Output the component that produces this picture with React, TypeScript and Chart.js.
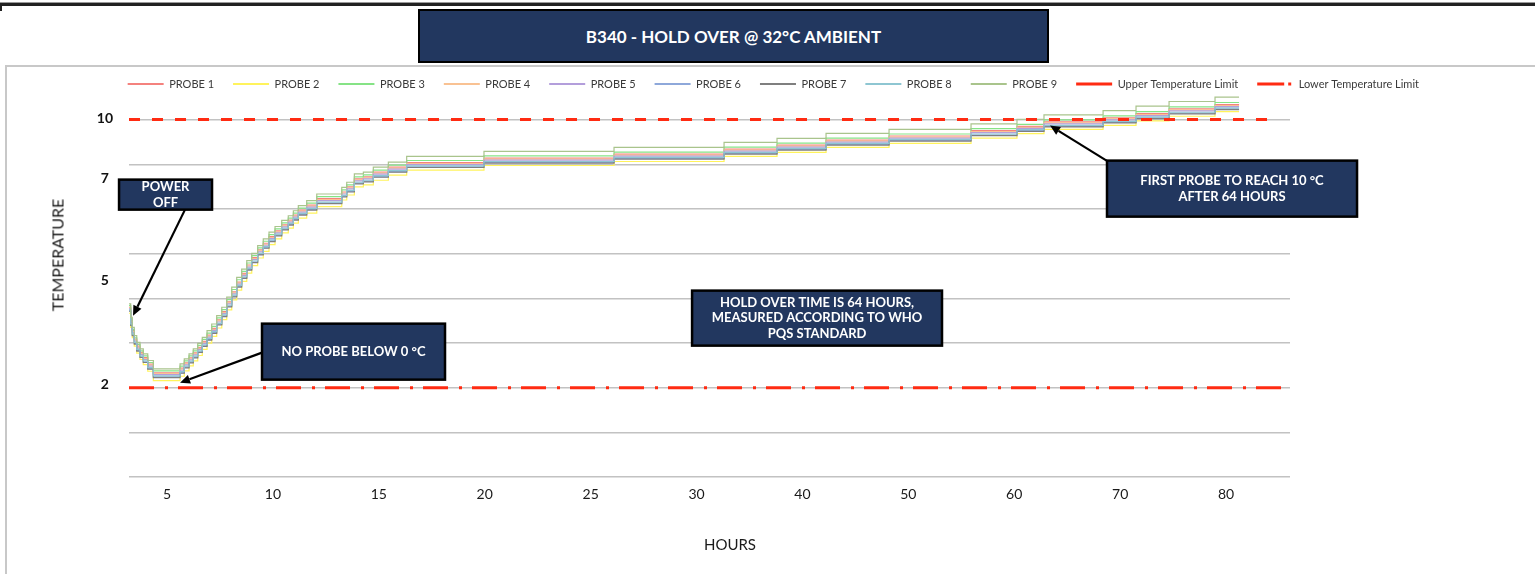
import React, { useEffect, useRef } from 'react';
import { Chart, registerables } from 'chart.js';

Chart.register(...registerables);
Chart.defaults.font.family = 'Lato, "Open Sans", sans-serif';

// ---- axis definitions ----
const X_MIN = -0.359;
const X_MAX = 10.604;
const Y_MIN = -0.6667;
const Y_MAX = 10.6;

const X_TICK_POS = [0, 1, 2, 3, 4, 5, 6, 7, 8, 9, 10];
const X_TICK_LABELS = ['5', '10', '15', '20', '25', '30', '40', '50', '60', '70', '80'];
const Y_TICK_POS = [10.04, 8.25, 5.2, 2.1];
const Y_TICK_LABELS = ['10', '7', '5', '2'];
const Y_GRID = [-0.6667, 0.6667, 2, 3.3333, 4.6667, 6, 7.3333, 8.6667, 10];

// ---- data (x in label-slot units along the hours axis) ----
const SAMPLE_X = [
  -0.359, -0.343, -0.328, -0.309, -0.286, -0.255, -0.224, -0.182, -0.129, 0.123,
  0.163, 0.208, 0.248, 0.29, 0.333, 0.378, 0.422, 0.469, 0.517, 0.564,
  0.611, 0.658, 0.705, 0.753, 0.8, 0.856, 0.909, 0.963, 1.02, 1.083,
  1.145, 1.193, 1.24, 1.319, 1.414, 1.65, 1.697, 1.769, 1.854, 1.948,
  2.09, 2.263, 2.993, 4.221, 5.26, 5.76, 6.223, 6.818, 7.592, 8.026,
  8.281, 8.839, 9.15, 9.462, 9.896, 10.123,
];

const PROBE_1 = [4.40, 4.00, 3.70, 3.45, 3.24, 3.05, 2.90, 2.70, 2.44, 2.58, 2.74, 2.89, 3.04, 3.20, 3.38, 3.57, 3.77, 4.02, 4.27, 4.56, 4.86, 5.15, 5.41, 5.66, 5.88, 6.11, 6.31, 6.51, 6.68, 6.86, 7.00, 7.15, 7.30, 7.45, 7.64, 7.84, 7.99, 8.23, 8.29, 8.43, 8.58, 8.72, 8.85, 8.97, 9.12, 9.24, 9.39, 9.51, 9.67, 9.80, 9.93, 10.05, 10.18, 10.32, 10.45, 10.45];
const PROBE_2 = [4.22, 3.80, 3.49, 3.24, 3.03, 2.84, 2.69, 2.49, 2.21, 2.34, 2.50, 2.65, 2.80, 2.96, 3.14, 3.33, 3.53, 3.78, 4.03, 4.32, 4.62, 4.91, 5.17, 5.42, 5.64, 5.87, 6.07, 6.27, 6.44, 6.62, 6.76, 6.91, 7.06, 7.21, 7.40, 7.60, 7.75, 7.99, 8.05, 8.19, 8.34, 8.49, 8.63, 8.75, 8.90, 9.02, 9.17, 9.29, 9.45, 9.58, 9.71, 9.83, 9.96, 10.10, 10.24, 10.24];
const PROBE_3 = [4.45, 4.05, 3.74, 3.49, 3.29, 3.10, 2.95, 2.75, 2.50, 2.64, 2.80, 2.95, 3.10, 3.26, 3.44, 3.63, 3.83, 4.08, 4.33, 4.63, 4.93, 5.22, 5.47, 5.72, 5.94, 6.17, 6.37, 6.57, 6.74, 6.92, 7.06, 7.21, 7.36, 7.51, 7.70, 7.90, 8.05, 8.29, 8.35, 8.49, 8.64, 8.78, 8.92, 9.03, 9.18, 9.30, 9.45, 9.57, 9.73, 9.86, 9.99, 10.11, 10.24, 10.38, 10.51, 10.51];
const PROBE_4 = [4.38, 3.97, 3.67, 3.42, 3.21, 3.02, 2.87, 2.67, 2.42, 2.55, 2.71, 2.86, 3.01, 3.17, 3.35, 3.54, 3.74, 3.99, 4.24, 4.53, 4.83, 5.12, 5.38, 5.63, 5.85, 6.08, 6.28, 6.48, 6.65, 6.83, 6.97, 7.12, 7.27, 7.42, 7.61, 7.81, 7.96, 8.20, 8.26, 8.40, 8.55, 8.69, 8.82, 8.94, 9.09, 9.21, 9.36, 9.48, 9.64, 9.77, 9.90, 10.02, 10.15, 10.29, 10.42, 10.42];
const PROBE_5 = [4.35, 3.94, 3.64, 3.39, 3.18, 2.99, 2.84, 2.64, 2.39, 2.52, 2.68, 2.83, 2.98, 3.14, 3.32, 3.51, 3.71, 3.96, 4.21, 4.50, 4.80, 5.09, 5.35, 5.60, 5.82, 6.05, 6.25, 6.45, 6.62, 6.80, 6.94, 7.09, 7.24, 7.39, 7.58, 7.78, 7.93, 8.17, 8.23, 8.37, 8.52, 8.66, 8.79, 8.91, 9.06, 9.18, 9.33, 9.45, 9.61, 9.74, 9.87, 9.99, 10.12, 10.26, 10.39, 10.39];
const PROBE_6 = [4.30, 3.88, 3.57, 3.32, 3.11, 2.92, 2.77, 2.57, 2.32, 2.45, 2.61, 2.76, 2.91, 3.07, 3.25, 3.44, 3.64, 3.89, 4.14, 4.43, 4.73, 5.02, 5.28, 5.53, 5.75, 5.98, 6.18, 6.38, 6.55, 6.73, 6.87, 7.02, 7.17, 7.32, 7.51, 7.71, 7.86, 8.10, 8.16, 8.30, 8.45, 8.59, 8.72, 8.84, 8.99, 9.11, 9.26, 9.38, 9.54, 9.67, 9.80, 9.92, 10.05, 10.19, 10.32, 10.32];
const PROBE_7 = [4.28, 3.86, 3.55, 3.30, 3.09, 2.90, 2.75, 2.55, 2.30, 2.43, 2.59, 2.74, 2.89, 3.05, 3.23, 3.42, 3.62, 3.87, 4.12, 4.41, 4.71, 5.00, 5.26, 5.51, 5.73, 5.96, 6.16, 6.36, 6.53, 6.71, 6.85, 7.00, 7.15, 7.30, 7.49, 7.69, 7.84, 8.08, 8.14, 8.28, 8.43, 8.57, 8.70, 8.82, 8.97, 9.09, 9.24, 9.36, 9.52, 9.65, 9.78, 9.90, 10.03, 10.17, 10.30, 10.30];
const PROBE_8 = [4.32, 3.90, 3.60, 3.35, 3.14, 2.95, 2.80, 2.60, 2.35, 2.48, 2.64, 2.79, 2.94, 3.10, 3.28, 3.47, 3.67, 3.92, 4.17, 4.46, 4.76, 5.05, 5.31, 5.56, 5.78, 6.01, 6.21, 6.41, 6.58, 6.76, 6.90, 7.05, 7.20, 7.35, 7.54, 7.74, 7.89, 8.13, 8.19, 8.33, 8.48, 8.62, 8.75, 8.87, 9.02, 9.14, 9.29, 9.41, 9.57, 9.70, 9.83, 9.95, 10.08, 10.22, 10.35, 10.35];
const PROBE_9 = [4.50, 4.10, 3.80, 3.55, 3.35, 3.16, 3.01, 2.81, 2.56, 2.71, 2.86, 3.01, 3.16, 3.32, 3.50, 3.70, 3.90, 4.15, 4.40, 4.70, 5.00, 5.29, 5.54, 5.79, 6.01, 6.24, 6.44, 6.64, 6.81, 6.99, 7.13, 7.28, 7.43, 7.58, 7.78, 7.98, 8.13, 8.38, 8.43, 8.58, 8.73, 8.90, 9.05, 9.17, 9.32, 9.44, 9.59, 9.71, 9.87, 10.01, 10.14, 10.27, 10.40, 10.54, 10.67, 10.67];

const PROBE_NAMES = ['PROBE 1', 'PROBE 2', 'PROBE 3', 'PROBE 4', 'PROBE 5', 'PROBE 6', 'PROBE 7', 'PROBE 8', 'PROBE 9'];
const PROBE_COLORS = ['#F4827E', '#FFF35C', '#86E386', '#F9C293', '#B39EDB', '#8EA8DA', '#7F7F7F', '#8EC6D2', '#A9C48C'];

const UPPER_LIMIT = 10;
const LOWER_LIMIT = 2;
const UPPER_SPAN = [X_MIN, 10.47];
const LOWER_SPAN = [X_MIN, X_MAX];
const LIMIT_COLOR = '#FF2B12';

// ---- callouts (positions in axis units) ----
const ANNOTATIONS = [
  { lines: ['POWER', 'OFF'], box: [-0.453, 0.425, 8.209, 7.313], from: [0.17, 7.313], to: [-0.321, 4.149] },
  { lines: ['NO PROBE BELOW 0 °C'], box: [0.897, 2.625, 3.91, 2.239], from: [0.897, 3.045], to: [0.123, 2.149] },
  { lines: ['HOLD OVER TIME IS 64 HOURS,', 'MEASURED ACCORDING TO WHO', 'PQS STANDARD'], box: [4.958, 7.318, 4.896, 3.254] },
  { lines: ['FIRST PROBE TO REACH 10 °C', 'AFTER 64 HOURS'], box: [8.876, 11.237, 8.776, 7.104], from: [8.933, 8.657], to: [8.338, 9.821] },
];
const BOX_FILL = '#22375F';

const calloutPlugin = {
  id: 'callouts',
  afterDraw(chart: any) {
    const { ctx } = chart;
    const xs = chart.scales.x;
    const ys = chart.scales.y;
    ctx.save();
    for (const a of ANNOTATIONS) {
      if (a.from && a.to) {
        const fx = xs.getPixelForValue(a.from[0]);
        const fy = ys.getPixelForValue(a.from[1]);
        const tx = xs.getPixelForValue(a.to[0]);
        const ty = ys.getPixelForValue(a.to[1]);
        const ang = Math.atan2(ty - fy, tx - fx);
        const head = 10;
        const hw = 4.5;
        const bx = tx - head * Math.cos(ang);
        const by = ty - head * Math.sin(ang);
        ctx.strokeStyle = '#000';
        ctx.lineWidth = 2.2;
        ctx.setLineDash([]);
        ctx.beginPath();
        ctx.moveTo(fx, fy);
        ctx.lineTo(bx, by);
        ctx.stroke();
        ctx.fillStyle = '#000';
        ctx.beginPath();
        ctx.moveTo(tx, ty);
        ctx.lineTo(bx + hw * Math.sin(ang), by - hw * Math.cos(ang));
        ctx.lineTo(bx - hw * Math.sin(ang), by + hw * Math.cos(ang));
        ctx.closePath();
        ctx.fill();
      }
      const x0 = xs.getPixelForValue(a.box[0]);
      const x1 = xs.getPixelForValue(a.box[1]);
      const y0 = ys.getPixelForValue(a.box[2]);
      const y1 = ys.getPixelForValue(a.box[3]);
      ctx.fillStyle = BOX_FILL;
      ctx.fillRect(x0, y0, x1 - x0, y1 - y0);
      ctx.lineWidth = 2.5;
      ctx.strokeStyle = '#000';
      ctx.strokeRect(x0, y0, x1 - x0, y1 - y0);
      ctx.fillStyle = '#fff';
      ctx.font = 'bold 13px Lato, sans-serif';
      ctx.textAlign = 'center';
      ctx.textBaseline = 'middle';
      const lh = 15.5;
      const cx = (x0 + x1) / 2;
      const cy = (y0 + y1) / 2;
      a.lines.forEach((t, i) => {
        ctx.fillText(t, cx, cy + (i - (a.lines.length - 1) / 2) * lh);
      });
    }
    ctx.restore();
  },
};

export default function App() {
  const ref = useRef<HTMLCanvasElement>(null);

  useEffect(() => {
    if (!ref.current) return;
    const probes = [PROBE_1, PROBE_2, PROBE_3, PROBE_4, PROBE_5, PROBE_6, PROBE_7, PROBE_8, PROBE_9];
    const datasets: any[] = probes.map((vals, i) => ({
      label: PROBE_NAMES[i],
      data: SAMPLE_X.map((x, j) => ({ x, y: vals[j] })),
      borderColor: PROBE_COLORS[i],
      backgroundColor: PROBE_COLORS[i],
      borderWidth: 1.2,
      pointRadius: 0,
      stepped: true,
      fill: false,
      clip: false,
      order: 11 - i,
    }));
    datasets.push({
      label: 'Upper Temperature Limit',
      data: UPPER_SPAN.map((x) => ({ x, y: UPPER_LIMIT })),
      borderColor: LIMIT_COLOR,
      backgroundColor: LIMIT_COLOR,
      borderWidth: 3,
      borderDash: [11, 12],
      pointRadius: 0,
      fill: false,
      order: 1,
    });
    datasets.push({
      label: 'Lower Temperature Limit',
      data: LOWER_SPAN.map((x) => ({ x, y: LOWER_LIMIT })),
      borderColor: LIMIT_COLOR,
      backgroundColor: LIMIT_COLOR,
      borderWidth: 3,
      borderDash: [25, 11, 3, 10],
      pointRadius: 0,
      fill: false,
      order: 0,
    });

    const chart = new Chart(ref.current, {
      type: 'line',
      data: { datasets },
      options: {
        responsive: false,
        animation: false,
        events: [],
        layout: { padding: { left: 93, right: 97, top: 59.5, bottom: 67 } },
        plugins: {
          tooltip: { enabled: false },
          legend: {
            position: 'top',
            align: 'end',
            labels: {
              usePointStyle: true,
              pointStyle: 'line',
              pointStyleWidth: 36,
              boxWidth: 36,
              boxHeight: 11,
              padding: 19,
              color: '#3a3a3a',
              font: { size: 11 },
              sort: (a: any, b: any) => a.datasetIndex - b.datasetIndex,
              generateLabels: (c: any) => {
                const items = (Chart.defaults as any).plugins.legend.labels.generateLabels(c);
                return items.map((it: any) => ({
                  ...it,
                  lineWidth: it.datasetIndex < 9 ? 2 : 3,
                  lineDash: it.datasetIndex === 10 ? [27, 4, 3, 10] : it.lineDash,
                }));
              },
            },
          },
        },
        scales: {
          x: {
            type: 'linear',
            min: X_MIN,
            max: X_MAX,
            afterBuildTicks: (s: any) => { s.ticks = X_TICK_POS.map((v) => ({ value: v })); },
            afterFit: (s: any) => { s.height = 30; },
            grid: { display: false, drawTicks: false },
            border: { display: false },
            ticks: {
              autoSkip: false,
              maxRotation: 0,
              padding: 9,
              color: '#1a1a1a',
              font: { size: 14 },
              callback: (_v: any, i: number) => X_TICK_LABELS[i],
            },
          },
          y: {
            type: 'linear',
            position: 'left',
            min: Y_MIN,
            max: Y_MAX,
            afterBuildTicks: (s: any) => { s.ticks = Y_TICK_POS.map((v) => ({ value: v })); },
            afterFit: (s: any) => { s.width = 36; },
            grid: { display: false, drawTicks: false },
            border: { display: false },
            ticks: {
              autoSkip: false,
              crossAlign: 'center',
              padding: 16,
              color: '#111',
              font: { size: 14, weight: 'bold' },
              callback: (_v: any, i: number) => Y_TICK_LABELS[i],
            },
          },
          yGrid: {
            type: 'linear',
            position: 'right',
            min: Y_MIN,
            max: Y_MAX,
            afterBuildTicks: (s: any) => { s.ticks = Y_GRID.map((v) => ({ value: v })); },
            afterFit: (s: any) => { s.width = 148; },
            grid: { color: '#c2c2c2', lineWidth: 1.5, drawTicks: false },
            border: { display: false },
            ticks: { display: false },
          },
        },
      } as any,
      plugins: [calloutPlugin],
    });
    return () => chart.destroy();
  }, []);

  return (
    <div style={{ position: 'fixed', left: 0, top: 0, width: 1535, height: 574, background: '#fff', overflow: 'hidden', fontFamily: 'Lato, "Open Sans", sans-serif' }}>
      <div style={{ position: 'absolute', left: 0, top: 2, width: 1535, height: 1, background: '#9a9a9a' }} />
      <div style={{ position: 'absolute', left: 0, top: 3, width: 1535, height: 3, background: '#222' }} />
      <div style={{ position: 'absolute', left: 0, top: 3, width: 2, height: 8, background: '#222' }} />
      <div style={{ position: 'absolute', left: 5, top: 65, width: 1530, height: 2, background: '#c8c8c8' }} />
      <div style={{ position: 'absolute', left: 5, top: 65, width: 2, height: 509, background: '#c8c8c8' }} />
      <canvas ref={ref} width={1535} height={574} style={{ position: 'absolute', left: 0, top: 0, display: 'block' }} />
      <div style={{ position: 'absolute', left: 418, top: 9, width: 631, height: 54, boxSizing: 'border-box', background: BOX_FILL, border: '2.5px solid #000', color: '#fff', fontWeight: 700, fontSize: 17, display: 'flex', alignItems: 'center', justifyContent: 'center' }}>
        B340 - HOLD OVER @ 32°C AMBIENT
      </div>
      <div style={{ position: 'absolute', left: 57, top: 255, transform: 'translate(-50%, -50%) rotate(-90deg)', fontSize: 16, color: '#1a1a1a', whiteSpace: 'nowrap' }}>
        TEMPERATURE
      </div>
      <div style={{ position: 'absolute', left: 730, top: 544, transform: 'translate(-50%, -50%)', fontSize: 15, color: '#1a1a1a', whiteSpace: 'nowrap' }}>
        HOURS
      </div>
    </div>
  );
}
